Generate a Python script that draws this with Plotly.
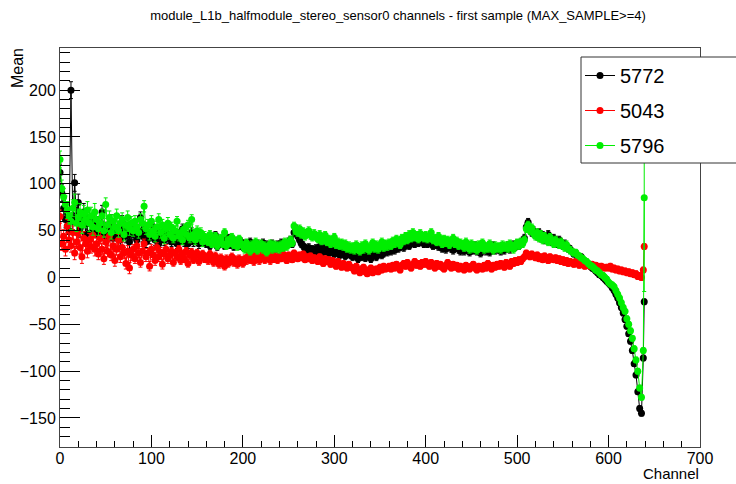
import plotly.graph_objects as go

# ---------------- data ----------------
# main grid: channels 0..598 step 2 (rows of 20 = 40 channels each)
channel_main = list(range(0, 600, 2))
# tail grid: channels 600..638 step 2, then 639
channel_tail = list(range(600, 640, 2)) + [639]

series_names = ["5772", "5043", "5796"]
series_colors = ["#000000", "#ff0000", "#00ee00"]

mean_5772_main = [
    112, 90, 74, 62, 55, 50, 200, 60, 101, 66, 80, 52, 62, 70, 46, 58, 64, 48, 56, 60,
    50, 58, 46, 70, 52, 44, 56, 48, 60, 42, 54, 46, 50, 40, 59, 52, 44, 50, 38, 48,
    46, 54, 40, 50, 64, 44, 52, 38, 48, 42, 56, 46, 40, 50, 36, 44, 48, 40, 46, 42,
    44, 38, 48, 42, 36, 46, 40, 52, 38, 44, 36, 42, 48, 38, 44, 40, 36, 42, 38, 40,
    36, 40, 34, 42, 38, 45, 33, 38, 36, 40, 34, 38, 42, 35, 37, 33, 39, 36, 34, 38,
    33, 36, 31, 35, 38, 32, 30, 34, 36, 31, 33, 37, 32, 35, 30, 34, 36, 33, 31, 35,
    34, 37, 33, 36, 35, 38, 40, 36, 48, 52, 44, 40, 36, 34, 31, 29, 32, 28, 30, 27,
    31, 28, 33, 30, 27, 32, 29, 26, 30, 28, 25, 29, 27, 24, 28, 26, 23, 27, 25, 24,
    22, 26, 23, 20, 25, 22, 24, 21, 26, 23, 20, 24, 27, 22, 25, 28, 24, 26, 29, 27,
    30, 28, 32, 29, 34, 31, 33, 36, 32, 35, 38, 34, 37, 40, 36, 39, 37, 41, 38, 36,
    39, 36, 41, 37, 34, 38, 35, 33, 37, 31, 34, 30, 33, 36, 31, 29, 32, 35, 30, 28,
    31, 28, 33, 30, 27, 32, 29, 34, 28, 31, 26, 30, 33, 28, 31, 27, 30, 34, 29, 32,
    30, 28, 33, 29, 31, 34, 30, 32, 35, 33, 36, 34, 37, 39, 42, 54, 59, 52, 48, 50,
    46, 44, 48, 42, 45, 40, 43, 46, 41, 38, 42, 39, 36, 40, 37, 34, 36, 33, 31, 30,
    28, 25, 26, 23, 21, 22, 19, 17, 15, 14, 12, 10, 9, 7, 5, 3, 2, 0, -2, -4,
]
mean_5772_tail = [-6, -8, -11, -14, -18, -22, -27, -32, -38, -45,
                  -52, -60, -68, -78, -92, -104, -122, -140, -145, -86, -26]

mean_5043_main = [
    65, 36, 44, 30, 55, 40, 34, 48, 26, 38, 47, 32, 22, 42, 36, 28, 40, 33, 45, 30,
    36, 25, 42, 30, 20, 38, 28, 44, 24, 34, 18, 30, 40, 22, 32, 26, 15, 28, 10, 24,
    30, 20, 34, 26, 16, 28, 36, 22, 26, 12, 30, 24, 18, 32, 22, 27, 14, 25, 30, 20,
    24, 28, 16, 26, 22, 30, 18, 25, 20, 28, 15, 24, 27, 19, 23, 26, 17, 22, 25, 20,
    22, 18, 25, 20, 16, 23, 19, 14, 21, 17, 12, 20, 15, 18, 22, 16, 19, 14, 20, 17,
    15, 20, 18, 23, 19, 22, 17, 24, 20, 18, 22, 25, 19, 23, 21, 18, 24, 20, 22, 19,
    23, 20, 25, 21, 18, 24, 22, 19, 26, 23, 20, 24, 21, 25, 19, 22, 20, 23, 18, 21,
    20, 17, 22, 18, 15, 20, 17, 19, 14, 18, 16, 12, 17, 14, 11, 15, 13, 10, 14, 11,
    10, 7, 12, 8, 5, 9, 11, 6, 4, 8, 10, 5, 7, 9, 6, 11, 8, 12, 9, 10,
    12, 9, 13, 10, 14, 11, 8, 13, 15, 12, 16, 13, 10, 14, 17, 13, 15, 12, 16, 14,
    17, 14, 12, 16, 13, 10, 15, 12, 14, 11, 9, 13, 16, 12, 10, 14, 11, 13, 9, 12,
    10, 8, 13, 11, 9, 12, 14, 10, 8, 12, 11, 9, 13, 10, 15, 12, 9, 13, 11, 14,
    12, 15, 13, 11, 16, 14, 12, 17, 15, 18, 16, 19, 17, 20, 22, 26, 24, 22, 25, 23,
    21, 24, 20, 22, 19, 23, 21, 18, 22, 20, 19, 21, 18, 20, 17, 19, 16, 18, 15, 17,
    16, 14, 17, 15, 13, 16, 14, 12, 15, 13, 12, 14, 11, 13, 12, 10, 12, 11, 10, 11,
]
mean_5043_tail = [10, 12, 9, 10, 8, 9, 7, 8, 6, 7,
                  5, 6, 4, 5, 3, 4, 1, 2, 0, 8, 33]

mean_5796_main = [
    126, 95, 86, 78, 72, 66, 60, 74, 80, 58, 64, 70, 56, 68, 62, 72, 58, 66, 54, 70,
    62, 52, 58, 66, 50, 78, 56, 64, 48, 60, 54, 66, 50, 58, 62, 46, 56, 64, 52, 58,
    50, 60, 54, 48, 62, 58, 76, 52, 56, 46, 60, 50, 44, 54, 62, 48, 56, 42, 52, 58,
    46, 54, 42, 50, 60, 44, 48, 40, 52, 46, 56, 42, 62, 46, 40, 50, 44, 48, 38, 44,
    42, 38, 46, 36, 40, 44, 34, 38, 42, 36, 48, 34, 40, 37, 43, 35, 39, 33, 41, 36,
    34, 30, 37, 32, 28, 35, 31, 38, 29, 33, 36, 30, 34, 27, 32, 36, 30, 35, 31, 34,
    30, 35, 32, 38, 33, 36, 40, 37, 55, 50, 48, 52, 46, 49, 44, 47, 50, 45, 43, 47,
    44, 41, 46, 39, 42, 45, 38, 41, 36, 40, 43, 35, 38, 34, 37, 33, 36, 31, 34, 30,
    33, 29, 35, 31, 28, 34, 30, 36, 32, 29, 33, 37, 31, 35, 30, 34, 38, 32, 36, 33,
    37, 34, 39, 36, 41, 38, 35, 42, 39, 44, 40, 46, 42, 48, 43, 45, 41, 47, 44, 42,
    45, 41, 43, 48, 40, 42, 38, 44, 39, 36, 41, 37, 40, 35, 38, 42, 36, 39, 34, 37,
    35, 32, 38, 33, 30, 36, 31, 34, 29, 35, 32, 37, 30, 33, 31, 36, 32, 29, 34, 31,
    33, 30, 35, 32, 34, 31, 36, 33, 30, 35, 37, 34, 38, 36, 40, 52, 56, 50, 53, 47,
    44, 48, 42, 46, 40, 44, 41, 38, 43, 39, 36, 40, 37, 35, 38, 34, 32, 35, 31, 29,
    28, 26, 27, 24, 23, 21, 20, 18, 17, 15, 13, 12, 10, 8, 7, 5, 3, 2, 0, -2,
]
mean_5796_tail = [-5, -7, -8, -10, -14, -18, -22, -27, -32, -36,
                  -44, -50, -57, -65, -76, -88, -100, -118, -128, -78, 85]

# statistical errors, one value per 40-channel block of the main grid
err_block_5772 = [9, 7, 6, 5, 4, 4, 4, 4, 4, 4, 4, 4, 4, 4, 3]
err_block_5043 = [7, 6, 5, 4, 4, 4, 3, 3, 3, 3, 3, 3, 3, 3, 3]
err_block_5796 = [9, 7, 6, 5, 4, 4, 4, 4, 4, 4, 4, 4, 4, 4, 3]
err_5772_tail = [3, 3, 3, 3, 3, 3, 3, 3, 3, 3, 3, 3, 3, 3, 3, 3, 3, 3, 3, 3, 3]
err_5043_tail = [3, 3, 3, 3, 3, 3, 3, 3, 3, 3, 3, 3, 3, 3, 3, 3, 3, 3, 3, 3, 3]
err_5796_tail = [3, 3, 3, 3, 3, 3, 3, 3, 3, 3, 3, 3, 3, 3, 3, 3, 3, 3, 3, 3, 100]

title_text = "module_L1b_halfmodule_stereo_sensor0 channels - first sample (MAX_SAMPLE>=4)"
x_title = "Channel"
y_title = "Mean"

# ---------------- build ----------------
channels = channel_main + channel_tail
means = [mean_5772_main + mean_5772_tail,
         mean_5043_main + mean_5043_tail,
         mean_5796_main + mean_5796_tail]
block_errs = [err_block_5772, err_block_5043, err_block_5796]
tail_errs = [err_5772_tail, err_5043_tail, err_5796_tail]
per_block = 20
errs = []
for be, te in zip(block_errs, tail_errs):
    e = []
    for v in be:
        e.extend([v] * per_block)
    errs.append(e + te)
for m, e in zip(means, errs):
    assert len(m) == len(channels), (len(m), len(channels))
    assert len(e) == len(channels), (len(e), len(channels))

FONT = "Liberation Sans, Arial, Helvetica, sans-serif"

fig = go.Figure()
for name, color, m, e in zip(series_names, series_colors, means, errs):
    fig.add_trace(go.Scatter(
        x=channels, y=m, name=name, mode="lines+markers",
        line=dict(color=color, width=1),
        marker=dict(color=color, size=7, symbol="circle"),
        error_y=dict(type="data", array=e, color=color, thickness=1, width=2),
        legendgroup=name,
    ))

W, H = 736, 484
L, R, T, B = 60, 36, 48, 37
plot_w, plot_h = W - L - R, H - T - B

def px_x(p):
    return (p - L) / plot_w

def px_y(p):
    return (H - B - p) / plot_h

fig.update_layout(
    width=W, height=H,
    margin=dict(l=L, r=R, t=T, b=B, pad=0),
    paper_bgcolor="white", plot_bgcolor="white",
    font=dict(family=FONT, size=16, color="black"),
    title=dict(text=title_text, x=398 / W, xref="container", xanchor="center",
               y=1 - 15 / H, yref="container", yanchor="middle",
               font=dict(family=FONT, size=13, color="black")),
    showlegend=True,
    legend=dict(x=px_x(580), y=px_y(56), xanchor="left", yanchor="top",
                bgcolor="rgba(0,0,0,0)", borderwidth=0,
                font=dict(family=FONT, size=20, color="black"),
                tracegroupgap=6),
    xaxis=dict(range=[0, 700], tick0=0, dtick=100, ticks="inside", ticklen=12,
               tickcolor="black", tickwidth=1, ticklabelstandoff=-3,
               minor=dict(dtick=20, ticks="inside", ticklen=6, tickcolor="black"),
               showgrid=False, zeroline=False, showline=True, linecolor="#444",
               linewidth=1, mirror=True, tickfont=dict(size=16)),
    yaxis=dict(range=[-181, 245], tick0=0, dtick=50, ticks="inside", ticklen=20,
               tickcolor="black", tickwidth=1,
               minor=dict(dtick=10, ticks="inside", ticklen=10, tickcolor="black"),
               showgrid=False, zeroline=False, showline=True, linecolor="#444",
               linewidth=1, mirror=True, tickfont=dict(size=16)),
    shapes=[dict(type="rect", xref="paper", yref="paper", layer="above",
                 x0=px_x(581), x1=px_x(740), y0=px_y(163), y1=px_y(57),
                 fillcolor="white", line=dict(color="#333", width=1))],
    annotations=[
        dict(text=y_title, xref="paper", yref="paper", x=px_x(18), y=px_y(46),
             xanchor="center", yanchor="top", textangle=-90, showarrow=False,
             font=dict(family=FONT, size=16)),
        dict(text=x_title, xref="paper", yref="paper", x=px_x(701), y=px_y(484),
             xanchor="right", yanchor="bottom", showarrow=False,
             font=dict(family=FONT, size=15)),
    ],
)

fig.write_html("out.html")
